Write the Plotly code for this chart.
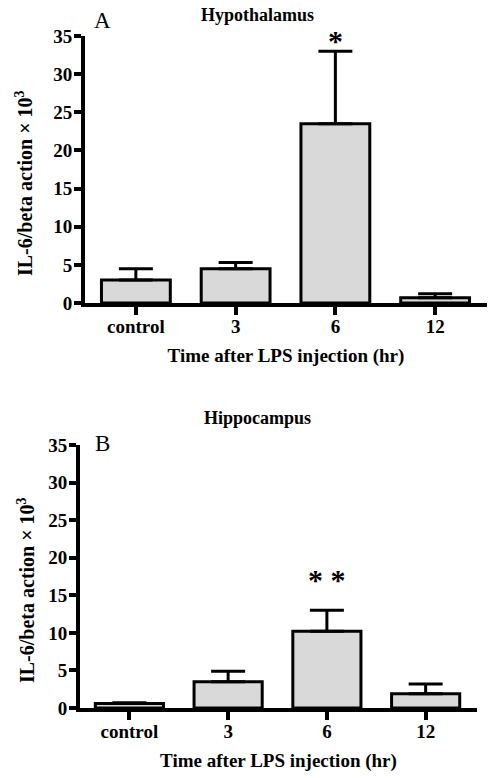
import plotly.graph_objects as go

categories = ["control", "3", "6", "12"]
hypo_mean = [3.0, 4.5, 23.5, 0.7]
hypo_err = [1.5, 0.8, 9.5, 0.5]
hippo_mean = [0.6, 3.5, 10.2, 1.9]
hippo_err = [0.1, 1.4, 2.8, 1.3]
y_ticks = [0, 5, 10, 15, 20, 25, 30, 35]

FONT = "Liberation Serif"
xpos = list(range(len(categories)))

W, H = 500, 778

def px(X):
    return X / W

def py(Y):
    return 1 - Y / H

def bar(y, err, xa, ya):
    return go.Bar(
        x=xpos, y=y, width=0.69, xaxis=xa, yaxis=ya,
        marker=dict(color="#d9d9d9", line=dict(color="black", width=3)),
        error_y=dict(type="data", array=err, arrayminus=[0]*len(err), symmetric=False,
                     color="black", thickness=3, width=17),
        showlegend=False, hoverinfo="skip",
    )

fig = go.Figure()
fig.add_trace(bar(hypo_mean, hypo_err, "x", "y"))
fig.add_trace(bar(hippo_mean, hippo_err, "x2", "y2"))

tickf = dict(family=FONT, size=19, color="black", weight="bold")
titlef = dict(family=FONT, size=19, color="black", weight="bold")
ytitle = "IL-6/beta action \u00d7 10<sup>3</sup>"

common_x = dict(tickmode="array", tickvals=xpos, ticktext=categories, ticks="outside",
                ticklen=8, tickwidth=4, tickcolor="black", showline=True, linecolor="black",
                linewidth=4, showgrid=False, zeroline=False, tickfont=tickf, fixedrange=True,
                automargin=False, ticklabelstandoff=-5)
common_y = dict(range=[0, 35], tickvals=y_ticks, ticks="outside", ticklen=7, tickwidth=4,
                tickcolor="black", showline=True, linecolor="black", linewidth=4,
                showgrid=False, zeroline=False, tickfont=tickf, fixedrange=True,
                automargin=False, ticklabelstandoff=-2)

fig.update_layout(
    width=W, height=H,
    margin=dict(l=0, r=0, t=0, b=0),
    plot_bgcolor="white", paper_bgcolor="white",
    font=dict(family=FONT, color="black"),
    xaxis=dict(common_x, domain=[px(85), px(487)], range=[-0.51, 3.52], anchor="y",
               title=dict(text="Time after LPS injection (hr)", font=titlef, standoff=14)),
    yaxis=dict(common_y, domain=[py(303), py(36)], anchor="x"),
    xaxis2=dict(common_x, domain=[px(80), px(477)], range=[-0.5, 3.52], anchor="y2",
                title=dict(text="Time after LPS injection (hr)", font=titlef, standoff=14)),
    yaxis2=dict(common_y, domain=[py(708), py(445)], anchor="x2"),
)

def label(text, X, Y, size, bold=True, angle=0):
    f = dict(family=FONT, size=size, color="black")
    if bold:
        f["weight"] = "bold"
    return dict(text=text, x=px(X), y=py(Y), xref="paper", yref="paper", textangle=angle,
                xanchor="center", yanchor="middle", showarrow=False, font=f)

annots = [
    label(ytitle, 24, 183, 20, angle=-90),
    label(ytitle, 26, 590, 20, angle=-90),
    label("Hypothalamus", 257, 15, 18),
    label("Hippocampus", 257, 418, 18),
    label("A", 102, 20, 23, bold=False),
    label("B", 102, 443, 23, bold=False),
    dict(text="*", x=2, y=hypo_mean[2] + hypo_err[2], xref="x", yref="y", yanchor="bottom",
         showarrow=False, font=dict(family=FONT, size=30, weight="bold"), yshift=-8),
    dict(text="* *", x=2, y=hippo_mean[2] + hippo_err[2], xref="x2", yref="y2", yanchor="bottom",
         showarrow=False, font=dict(family=FONT, size=30, weight="bold"), yshift=12),
]
fig.update_layout(annotations=annots)

fig.write_html("out.html", config={"displayModeBar": False, "staticPlot": True},
               post_script="document.body.style.margin='0';")
